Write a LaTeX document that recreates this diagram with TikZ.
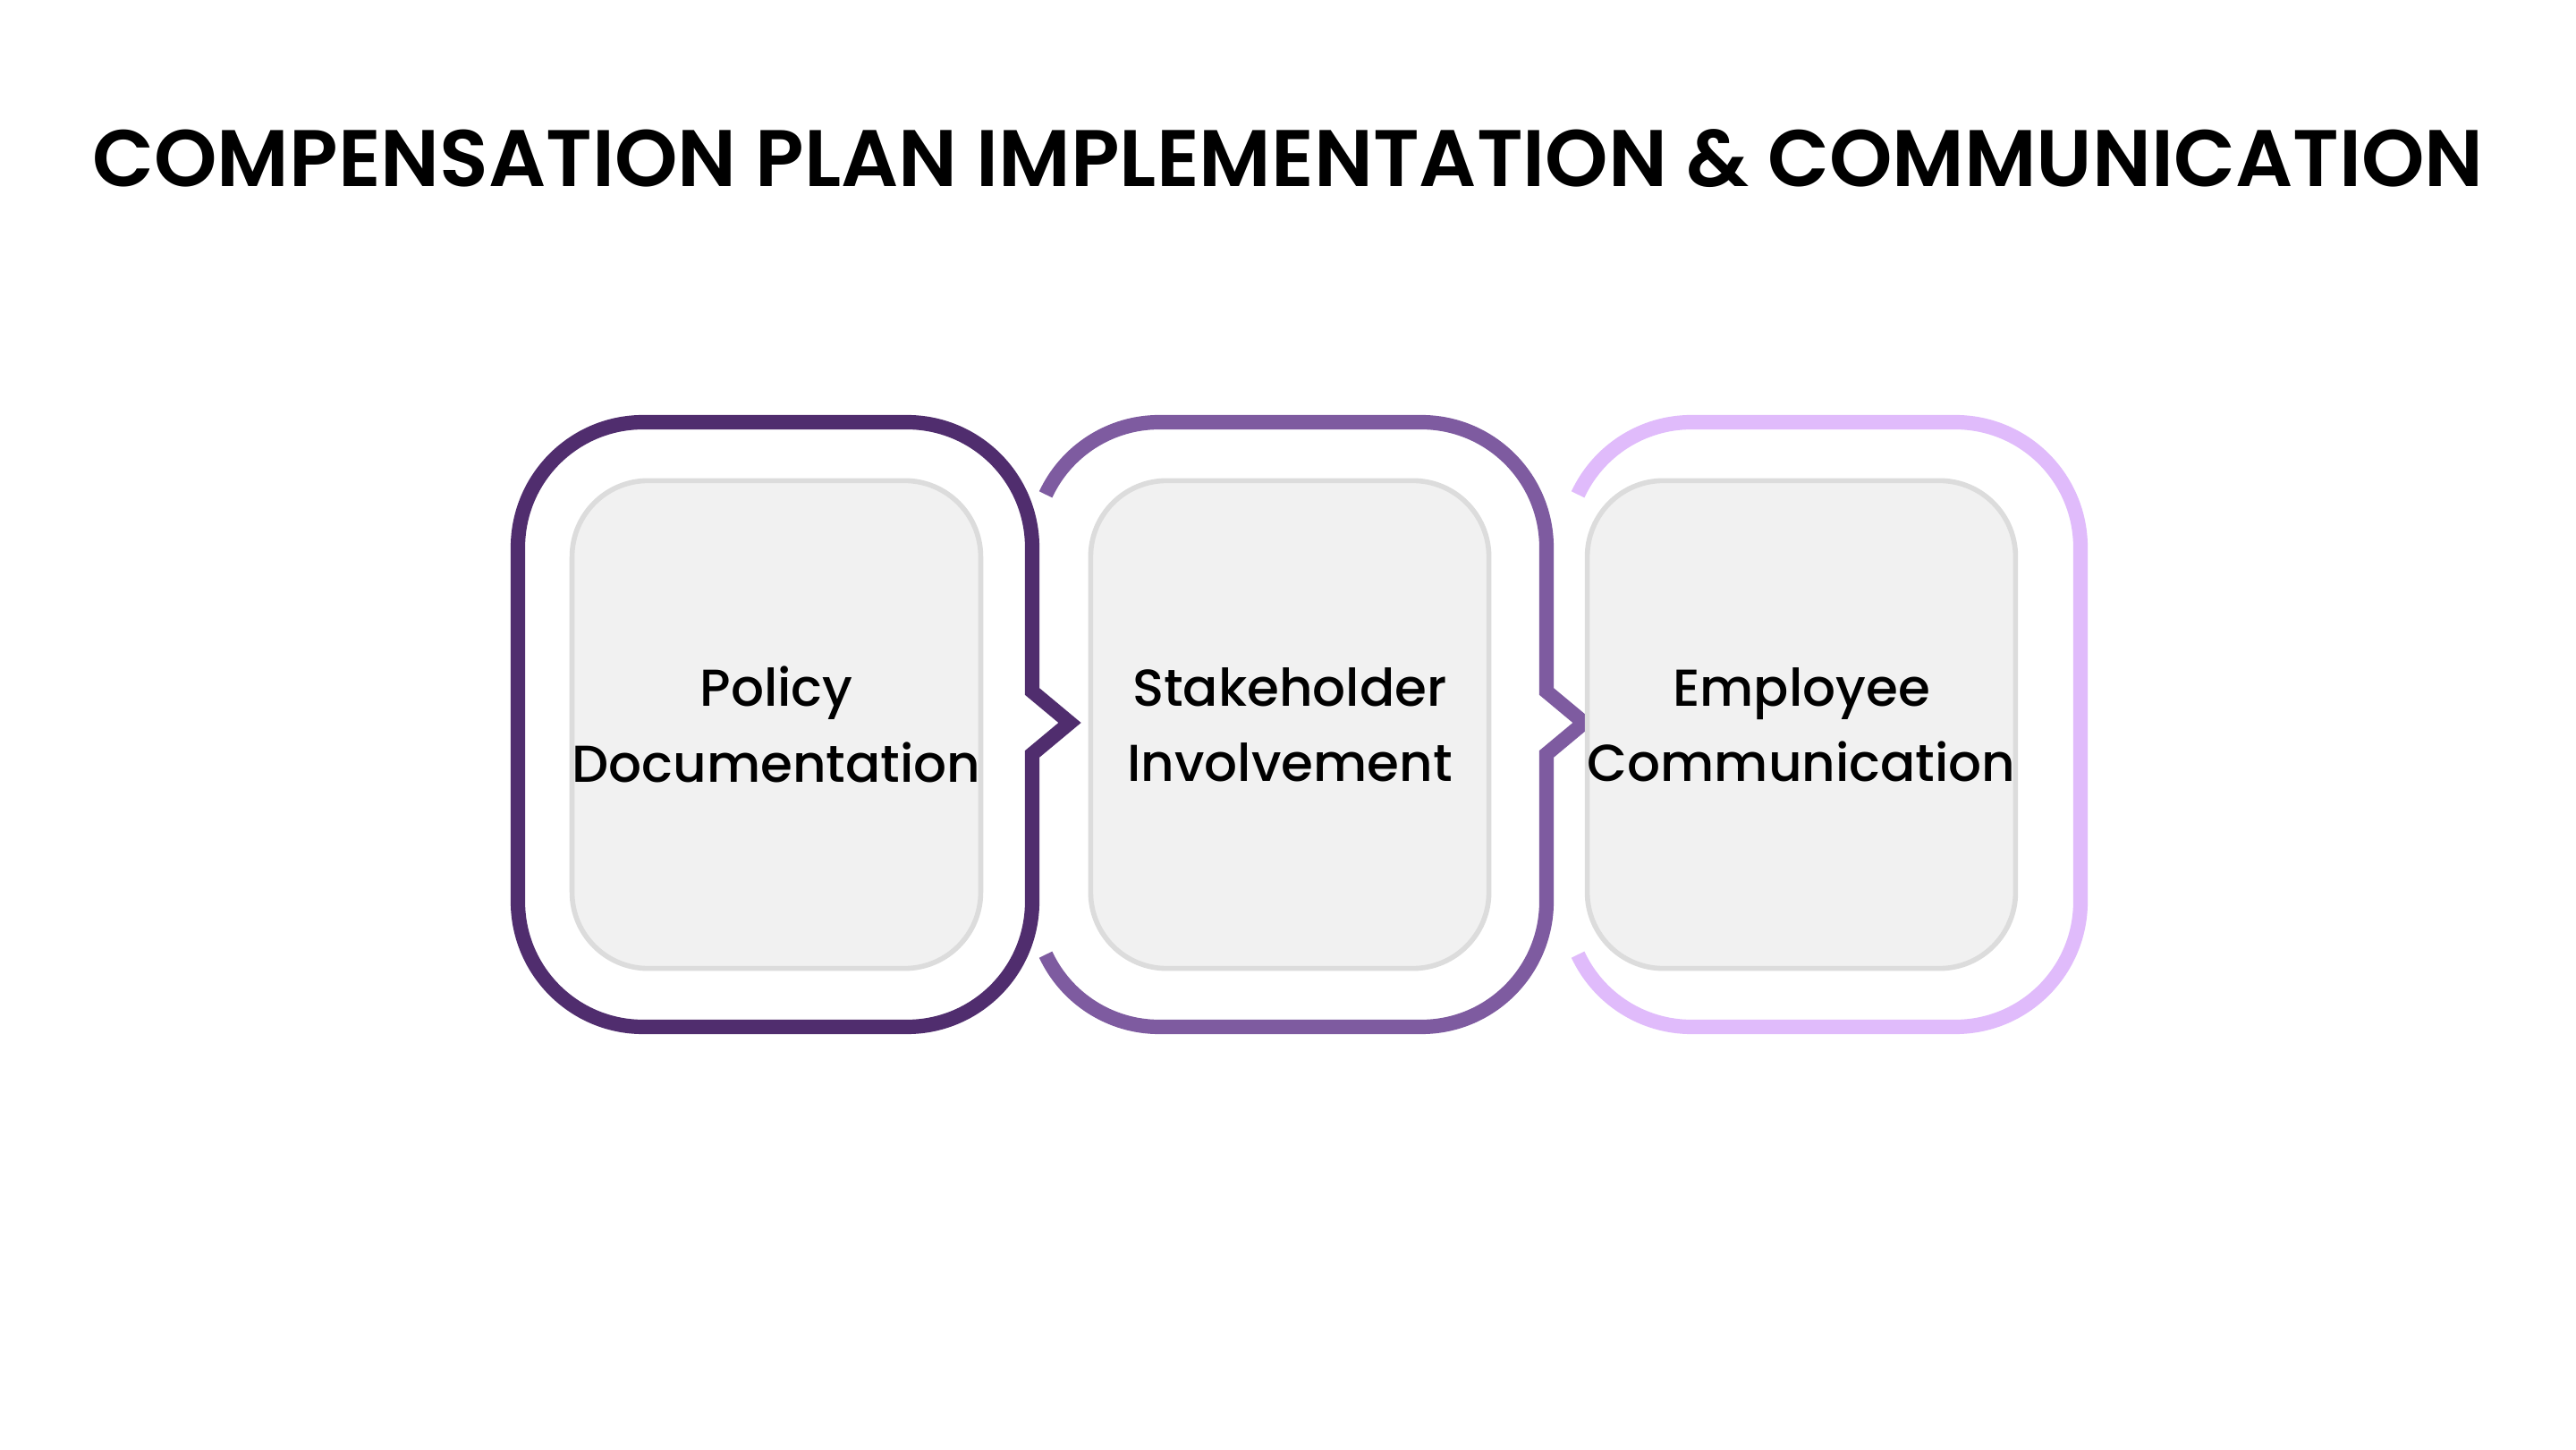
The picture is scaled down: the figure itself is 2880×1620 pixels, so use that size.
\documentclass[tikz,border=0pt]{standalone}
\usepackage{fontspec}
\setmainfont{Poppins}[UprightFont=* Medium,BoldFont=* SemiBold]
\definecolor{cA}{HTML}{502D6E}
\definecolor{cB}{HTML}{7E5BA0}
\definecolor{cC}{HTML}{E0BBFB}
\definecolor{boxfill}{HTML}{F1F1F1}
\definecolor{boxline}{HTML}{DCDCDC}
\begin{document}
\begin{tikzpicture}[x=0.01cm,y=0.01cm,
  frame/.style={line width=4.6pt,line join=miter},
  card/.style={draw=boxline,fill=boxfill,line width=1.6pt,rounded corners=0.85cm,minimum width=4.45cm,minimum height=5.45cm,align=center,font=\fontsize{16.5}{24}\selectfont,text=black,inner sep=0pt}]
\useasboundingbox (0,0) rectangle (2880,1620);
\fill[white] (0,0) rectangle (2880,1620);
\node[font=\bfseries\fontsize{25.5}{30}\selectfont] (title) at (1440,1443) {COMPENSATION PLAN IMPLEMENTATION \& COMMUNICATION};
\def\r{140}
% frame 1
\draw[frame,draw=cA] (579,1008) -- (579,612) arc(180:270:\r) -- (1014,472) arc(270:360:\r) -- (1154,777) -- (1196,812) -- (1154,847) -- (1154,1008) arc(0:90:\r) -- (719,1148) arc(90:180:\r) -- cycle;
% frame 2
\draw[frame,draw=cB] ([shift={(155:\r)}]1296,1008) arc(155:90:\r) -- (1589,1148) arc(90:0:\r) -- (1729,847) -- (1771,812) -- (1729,777) -- (1729,612) arc(360:270:\r) -- (1296,472) arc(270:205:\r);
% frame 3
\draw[frame,draw=cC] ([shift={(155:\r)}]1891,1008) arc(155:90:\r) -- (2186,1148) arc(90:0:\r) -- (2326,612) arc(360:270:\r) -- (1891,472) arc(270:205:\r);
\node[card] (b1) at (868,810) {Policy\\Documentation};
\node[card] (b2) at (1442,810) {Stakeholder\\Involvement};
\node[card] (b3) at (2014,810) {Employee\\Communication};
\end{tikzpicture}
\end{document}
